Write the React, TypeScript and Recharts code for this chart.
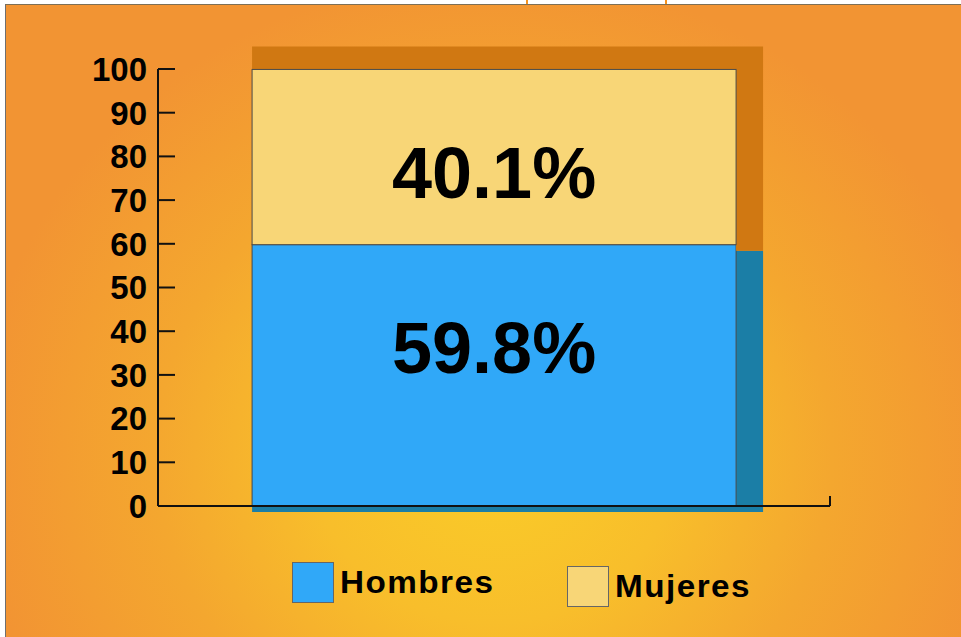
import React from 'react';
import { BarChart, Bar, XAxis, YAxis, LabelList, Legend } from 'recharts';

const categories = ['Total'];
const hombres = [59.8];
const mujeres = [40.1];
const yTicks = [0, 10, 20, 30, 40, 50, 60, 70, 80, 90, 100];
const seriesNames = ['Hombres', 'Mujeres'];
const seriesColors = ['#30A8F8', '#F8D677'];
const shadowColors = ['#1B7EA6', '#D07812'];

const data = categories.map((c, i) => ({
  category: c,
  [seriesNames[0]]: hombres[i],
  [seriesNames[1]]: mujeres[i],
}));

const FONT = '"Liberation Sans", Arial, Helvetica, sans-serif';

const HombresShape = (p: any) => {
  const { x, y, width: w, height: h } = p;
  return (
    <g>
      <rect x={x} y={y + 6} width={w + 27} height={h} fill={shadowColors[0]} />
      <rect x={x} y={y} width={w} height={h} fill={seriesColors[0]} stroke="#4a4a4a" strokeWidth={1} />
    </g>
  );
};

const MujeresShape = (p: any) => {
  const { x, y, width: w, height: h } = p;
  const d = `M${x},${y - 23} L${x + w + 27},${y - 23} L${x + w + 27},${y + h + 6} L${x + w},${y + h + 6} L${x + w},${y} L${x},${y} Z`;
  return (
    <g>
      <path d={d} fill={shadowColors[1]} />
      <rect x={x} y={y} width={w} height={h} fill={seriesColors[1]} stroke="#4a4a4a" strokeWidth={1} />
    </g>
  );
};

const makeLabel = (dy: number) => (props: any) => {
  const { x, y, width, height, value } = props;
  return (
    <text
      x={x + width / 2}
      y={y + height / 2 + dy}
      textAnchor="middle"
      dominantBaseline="central"
      fontSize={72}
      fontWeight="bold"
      fontFamily={FONT}
      fill="#000"
    >
      {`${value}%`}
    </text>
  );
};

const YTick = (props: any) => {
  const { x, y, payload } = props;
  return (
    <g>
      <line x1={x} x2={x + 17} y1={y} y2={y} stroke="#111" strokeWidth={2} />
      <text x={x - 11} y={y} dy="0.36em" textAnchor="end" fontSize={33} fontWeight="bold" fontFamily={FONT} fill="#000">
        {payload.value}
      </text>
    </g>
  );
};

// category tick: draws the boundary tick at the right end of the band, pointing up
const XTick = (props: any) => {
  const { x, y, payload } = props;
  const off = payload && typeof payload.offset === 'number' ? payload.offset : 0;
  const bx = x + off;
  return <line x1={bx} x2={bx} y1={y} y2={y - 10} stroke="#111" strokeWidth={2} />;
};

const LegendContent = (props: any) => {
  const { payload } = props;
  return (
    <div style={{ display: 'flex', alignItems: 'flex-start', paddingLeft: 292 }}>
      {(payload || []).map((e: any, i: number) => (
        <div
          key={e.value}
          style={{ display: 'flex', alignItems: 'center', marginRight: 67, marginTop: i === 1 ? 4 : 0 }}
        >
          <div
            style={{
              width: 42,
              height: 41,
              background: e.color,
              border: '1px solid #666',
              boxSizing: 'border-box',
              marginRight: 6,
            }}
          />
          <span
            style={{
              fontFamily: FONT,
              fontWeight: 'bold',
              fontSize: 32,
              letterSpacing: 1.4,
              color: '#000',
              lineHeight: '41px',
              marginTop: 0,
              display: 'inline-block',
              transform: 'scaleX(1.04)',
              transformOrigin: 'left center',
              width: 160,
            }}
          >
            {e.value}
          </span>
        </div>
      ))}
    </div>
  );
};

export default function App() {
  return (
    <div style={{ position: 'absolute', left: 0, top: 0, width: 961, height: 637, background: '#fff', overflow: 'hidden' }}>
      <div
        style={{
          position: 'absolute',
          left: 5,
          top: 4,
          width: 956,
          height: 633,
          boxSizing: 'border-box',
          borderTop: '1px solid #7d6f55',
          borderLeft: '1px solid #6f6f6f',
          background:
            'radial-gradient(ellipse 520px 480px at 488px 450px, #FACD28 0%, #F8BE2B 35%, #F4A72F 65%, #F29433 100%)',
        }}
      />
      <div style={{ position: 'absolute', left: 526, top: 0, width: 2, height: 4, background: '#F7931E' }} />
      <div style={{ position: 'absolute', left: 665, top: 0, width: 2, height: 4, background: '#F7931E' }} />
      <div style={{ position: 'absolute', left: 0, top: 0 }}>
        <BarChart
          width={961}
          height={637}
          data={data}
          margin={{ top: 69, right: 131, bottom: 101, left: 0 }}
          barCategoryGap="14%"
        >
          <XAxis
            dataKey="category"
            height={30}
            tickSize={0}
            tickMargin={0}
            tickLine={false}
            tick={<XTick />}
            interval={0}
            axisLine={{ stroke: '#111', strokeWidth: 2 }}
          />
          <YAxis
            domain={[0, 100]}
            ticks={yTicks}
            interval={0}
            width={158}
            tickSize={0}
            tickMargin={0}
            tickLine={false}
            axisLine={{ stroke: '#111', strokeWidth: 2 }}
            tick={<YTick />}
          />
          <Bar dataKey={seriesNames[0]} stackId="a" fill={seriesColors[0]} shape={HombresShape} isAnimationActive={false}>
            <LabelList dataKey={seriesNames[0]} content={makeLabel(-27)} />
          </Bar>
          <Bar dataKey={seriesNames[1]} stackId="a" fill={seriesColors[1]} shape={MujeresShape} isAnimationActive={false}>
            <LabelList dataKey={seriesNames[1]} content={makeLabel(16)} />
          </Bar>
          <Legend
            layout="horizontal"
            verticalAlign="middle"
            align="center"
            content={<LegendContent />}
            wrapperStyle={{ top: 562, left: 0, width: 961 }}
          />
        </BarChart>
      </div>
    </div>
  );
}
